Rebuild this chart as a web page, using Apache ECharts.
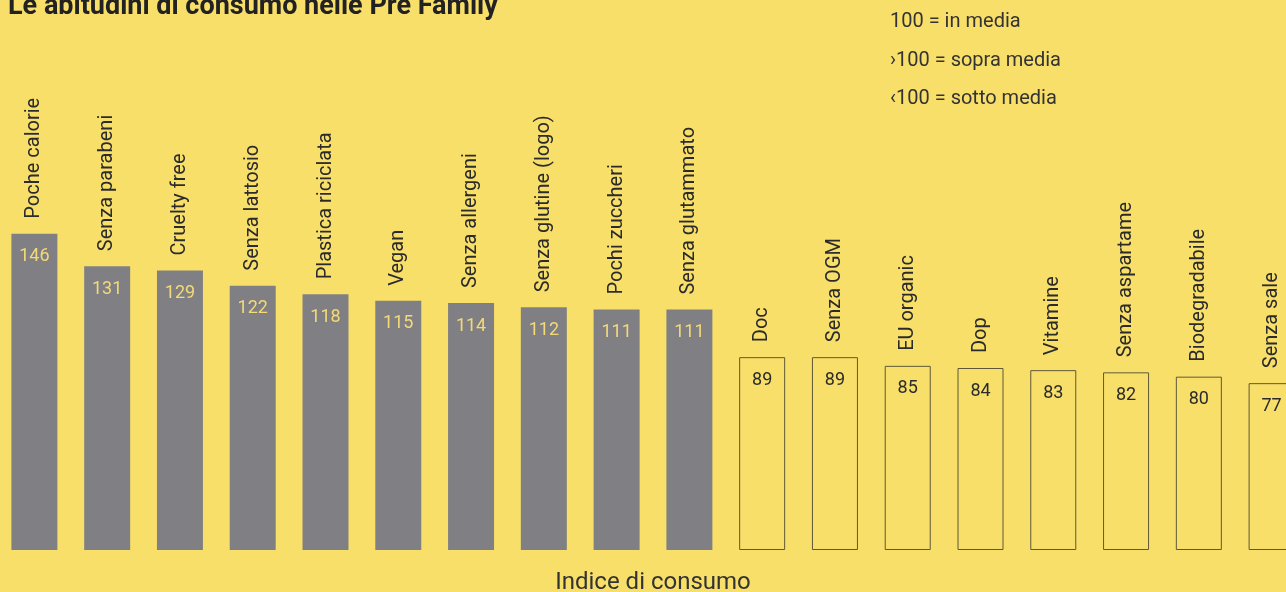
<!DOCTYPE html>
<html>
<head>
<meta charset="utf-8">
<script src="https://cdn.jsdelivr.net/npm/echarts@6/dist/echarts.min.js"></script>
<style>
  html, body { margin: 0; padding: 0; background: #f8df6a; }
  #chart { width: 1286px; height: 592px; }
</style>
</head>
<body>
<div id="chart"></div>
<script>
// Consumption index by product claim (100 = average)
const categories = [
  'Poche calorie', 'Senza parabeni', 'Cruelty free', 'Senza lattosio',
  'Plastica riciclata', 'Vegan', 'Senza allergeni', 'Senza glutine (logo)',
  'Pochi zuccheri', 'Senza glutammato', 'Doc', 'Senza OGM', 'EU organic',
  'Dop', 'Vitamine', 'Senza aspartame', 'Biodegradabile', 'Senza sale'
];
const indexValues = [146, 131, 129, 122, 118, 115, 114, 112, 111, 111, 89, 89, 85, 84, 83, 82, 80, 77];
const legendLines = ['100 = in media', '›100 = sopra media', '‹100 = sotto media'];
const titleText = 'Le abitudini di consumo nelle Pre Family';
const axisTitle = 'Indice di consumo';

const BG = '#f8df6a';
const GREY = '#808084';
const INK = '#2b2b2b';
const FONT = 'Roboto, "Noto Sans", sans-serif';

const barData = indexValues.map(v => {
  const above = v > 100;
  return {
    value: v,
    itemStyle: above
      ? { color: GREY, borderWidth: 0 }
      : { color: 'rgba(0,0,0,0)', borderColor: '#5e5838', borderWidth: 1 },
    label: { color: above ? '#f3d977' : INK }
  };
});

const chart = echarts.init(document.getElementById('chart'));
chart.setOption({
  backgroundColor: BG,
  animation: false,
  textStyle: { fontFamily: FONT },
  title: {
    text: titleText,
    left: 3, top: -11,
    textStyle: { fontFamily: FONT, fontWeight: 'bold', fontSize: 27, color: '#222' }
  },
  graphic: legendLines.map((t, i) => ({
    type: 'text',
    left: 890,
    top: 12 + i * 38.5,
    style: { text: t, font: '20px ' + FONT, fill: '#333' }
  })),
  grid: {
    left: -2, width: 1310, top: 225, bottom: 42,
    containLabel: false, outerBoundsMode: 'none'
  },
  xAxis: {
    type: 'category',
    data: categories,
    axisLine: { show: false },
    axisTick: { show: false },
    axisLabel: { show: false },
    name: axisTitle,
    nameLocation: 'middle',
    nameGap: 21,
    nameTextStyle: { fontFamily: FONT, fontSize: 24, color: '#333' }
  },
  yAxis: {
    type: 'value',
    min: 0, max: 150,
    show: false
  },
  series: [
    {
      type: 'bar',
      data: barData,
      barWidth: 46,
      label: {
        show: true,
        position: 'insideTop',
        distance: 14,
        fontSize: 18,
        fontFamily: FONT
      },
      z: 2
    },
    {
      // invisible twin bars carrying the rotated category names
      type: 'bar',
      data: indexValues,
      barWidth: 46,
      barGap: '-100%',
      itemStyle: { color: 'rgba(0,0,0,0)' },
      silent: true,
      label: {
        show: true,
        position: 'top',
        distance: 15,
        rotate: 90,
        align: 'left',
        verticalAlign: 'middle',
        formatter: p => categories[p.dataIndex],
        fontSize: 20,
        fontFamily: FONT,
        color: INK
      },
      z: 3
    }
  ]
});
</script>
</body>
</html>
